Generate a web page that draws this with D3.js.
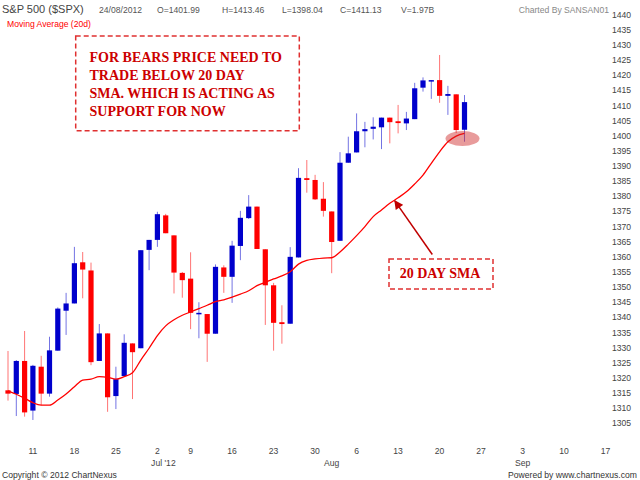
<!DOCTYPE html>
<html>
<head>
<meta charset="utf-8">
<script src="https://cdn.jsdelivr.net/npm/d3@7"></script>
<style>
  body { margin: 0; background: #fff; }
  svg { display: block; font-family: "Liberation Sans", Arial, sans-serif; }
</style>
</head>
<body>
<svg id="chart"></svg>
<script>
// trading days shown on the chart (index 0 = 7 Jun 2012)
const dates = ['Jun 7','Jun 8','Jun 11','Jun 12','Jun 13','Jun 14','Jun 15','Jun 18','Jun 19','Jun 20',
  'Jun 21','Jun 22','Jun 25','Jun 26','Jun 27','Jun 28','Jun 29','Jul 2','Jul 3','Jul 5',
  'Jul 6','Jul 9','Jul 10','Jul 11','Jul 12','Jul 13','Jul 16','Jul 17','Jul 18','Jul 19',
  'Jul 20','Jul 23','Jul 24','Jul 25','Jul 26','Jul 27','Jul 30','Jul 31','Aug 1','Aug 2',
  'Aug 3','Aug 6','Aug 7','Aug 8','Aug 9','Aug 10','Aug 13','Aug 14','Aug 15','Aug 16',
  'Aug 17','Aug 20','Aug 21','Aug 22','Aug 23','Aug 24'];

const opens = [1315.9,1314.7,1325.6,1309.2,1323.7,1314.8,1329.0,1342.2,1344.6,1358.2,
  1355.5,1325.6,1334.7,1314.0,1320.6,1331.4,1329.8,1362.3,1365.6,1373.7,
  1367.1,1354.7,1352.8,1341.1,1341.1,1334.6,1356.5,1353.4,1363.6,1372.8,
  1376.6,1362.5,1350.6,1338.4,1337.9,1359.8,1386.0,1385.4,1379.2,1375.0,
  1365.3,1391.1,1394.5,1401.5,1402.3,1402.8,1406.0,1404.8,1404.1,1405.5,
  1415.9,1418.1,1418.4,1413.2,1413.7,1401.99];
const highs = [1328.9,1325.9,1335.5,1324.3,1327.3,1333.6,1343.3,1348.1,1363.3,1361.6,
  1358.1,1337.8,1334.7,1323.7,1334.4,1331.4,1362.2,1365.6,1374.9,1374.2,
  1367.1,1355.0,1361.5,1345.0,1341.1,1357.5,1357.2,1365.3,1375.2,1380.4,
  1376.6,1362.5,1351.4,1344.0,1363.2,1389.3,1392.0,1387.1,1384.7,1375.0,
  1394.6,1399.7,1407.4,1404.6,1406.1,1406.0,1406.0,1410.2,1407.9,1417.5,
  1419.3,1418.4,1426.7,1416.5,1413.7,1413.46];
const lows = [1312.5,1307.4,1307.2,1306.1,1311.0,1313.8,1329.0,1334.2,1344.6,1346.3,
  1324.2,1325.6,1308.8,1309.7,1320.6,1313.0,1329.8,1355.6,1363.3,1367.8,
  1347.9,1346.5,1336.1,1333.1,1325.3,1334.6,1348.1,1344.8,1358.9,1372.5,
  1362.6,1337.5,1329.0,1331.3,1337.9,1359.8,1381.2,1378.8,1373.3,1354.6,
  1365.3,1391.1,1394.5,1396.2,1398.8,1395.6,1397.5,1400.8,1401.9,1405.5,
  1414.6,1412.2,1410.9,1406.9,1400.9,1398.04];
const closes = [1314.8,1325.6,1308.6,1324.0,1314.8,1329.1,1342.9,1344.6,1357.9,1355.8,
  1325.2,1334.7,1313.6,1319.6,1331.6,1328.5,1362.2,1365.6,1374.1,1367.8,
  1354.8,1352.3,1341.5,1341.5,1334.6,1356.7,1353.4,1363.7,1372.9,1376.6,
  1362.6,1350.6,1338.2,1337.8,1360.0,1386.1,1385.4,1379.0,1375.2,1364.9,
  1391.1,1394.2,1401.5,1402.2,1403.0,1406.0,1404.5,1404.2,1405.7,1415.7,
  1418.3,1418.4,1413.2,1413.8,1401.9,1411.13];

// 20 day moving average
const smaValues = [1315.7,1314.6,1313.3,1311.8,1311.0,1311.0,1312.7,1314.7,1317.1,1319.3,
  1319.6,1320.4,1320.2,1319.6,1320.4,1321.7,1325.9,1329.8,1334.0,1337.2,
  1339.2,1340.7,1341.8,1342.9,1344.0,1345.2,1345.8,1346.7,1347.7,1348.8,
  1350.5,1351.6,1352.7,1353.7,1355.1,1357.6,1358.8,1359.3,1359.6,1359.7,
  1361.6,1364.2,1367.0,1370.0,1373.3,1375.5,1377.7,1379.5,1381.5,1384.1,
  1387.0,1390.9,1394.7,1398.0,1399.9,1400.8];

// weekly axis labels (trading day index of each Monday)
const tickLabels = ['11','18','25','2','9','16','23','30','6','13','20','27','3','10','17'];
const tickIndex = [2,7,12,17,21,26,31,36,41,46,51,56,61,66,71];
const monthLabels = ["Jul '12", 'Aug', 'Sep'];
const monthIndex = [17,38,61];

const priceTicks = d3.range(1305, 1441, 5);

const headerItems = ['24/08/2012','O=1401.99','H=1413.46','L=1398.04','C=1411.13','V=1.97B'];

class CandleChart {
    constructor(_config){
        this.config = {
            parentElement: _config.parentElement,
            containerWidth: _config.containerWidth || 640,
            containerHeight: _config.containerHeight || 480
        }
        this.initVis();
    }

    initVis(){
        let vis = this;

        vis.svg = d3.select(vis.config.parentElement)
            .attr('width', vis.config.containerWidth)
            .attr('height', vis.config.containerHeight);

        // x = trading day index, y = price
        vis.xScale = d3.scaleLinear()
            .domain([0, 55])
            .range([8, 464.5]);

        vis.yScale = d3.scaleLinear()
            .domain([1305, 1430])
            .range([423.3, 45]);

        vis.data = dates.map((d, i) => ({
            date: d, i: i, open: opens[i], high: highs[i], low: lows[i], close: closes[i]
        }));

        vis.drawHeader();
        vis.drawAxes();
        vis.drawCandles();
        vis.drawSma();
        vis.drawNotes();
    }

    drawHeader(){
        let vis = this;

        vis.svg.append('text')
            .attr('x', 2).attr('y', 13)
            .attr('font-size', 11).attr('fill', '#444')
            .text('S&P 500 ($SPX)');

        const headerX = [99, 157, 222, 282, 340, 401];
        vis.svg.selectAll('.hdr')
            .data(headerItems)
            .join('text')
                .attr('class', 'hdr')
                .attr('x', (d, i) => headerX[i])
                .attr('y', 13)
                .attr('font-size', 8.6)
                .attr('fill', '#555')
                .text(d => d);

        vis.svg.append('text')
            .attr('x', 609).attr('y', 13)
            .attr('text-anchor', 'end')
            .attr('font-size', 8.6).attr('fill', '#888')
            .text('Charted By SANSAN01');

        vis.svg.append('text')
            .attr('x', 7).attr('y', 27)
            .attr('font-size', 8.6).attr('fill', '#ff0000')
            .text('Moving Average (20d)');
    }

    drawAxes(){
        let vis = this;

        // price labels on the right, no axis line
        vis.svg.append('g')
            .selectAll('text')
            .data(priceTicks)
            .join('text')
                .attr('x', 612)
                .attr('y', d => vis.yScale(d))
                .attr('dy', '0.35em')
                .attr('font-size', 8.6)
                .attr('fill', '#444')
                .text(d => d);

        // week labels sit one slot right of the candle
        vis.svg.append('g')
            .selectAll('text')
            .data(tickLabels)
            .join('text')
                .attr('x', (d, i) => vis.xScale(tickIndex[i] + 1))
                .attr('y', 454)
                .attr('text-anchor', 'middle')
                .attr('font-size', 8.6)
                .attr('fill', '#444')
                .text(d => d);

        vis.svg.append('g')
            .selectAll('text')
            .data(monthLabels)
            .join('text')
                .attr('x', (d, i) => vis.xScale(monthIndex[i] + 1) + (i === 0 ? 6 : 0))
                .attr('y', 466)
                .attr('text-anchor', 'middle')
                .attr('font-size', 8.6)
                .attr('fill', '#444')
                .text(d => d);

        vis.svg.append('text')
            .attr('x', 2).attr('y', 478)
            .attr('font-size', 8.6).attr('fill', '#333')
            .text('Copyright \u00a9 2012 ChartNexus');

        vis.svg.append('text')
            .attr('x', 637).attr('y', 478)
            .attr('text-anchor', 'end')
            .attr('font-size', 8.6).attr('fill', '#333')
            .text('Powered by www.chartnexus.com');
    }

    drawCandles(){
        let vis = this;
        const color = d => d.close >= d.open ? '#0000cc' : '#ff0000';

        vis.chart = vis.svg.append('g');

        vis.chart.selectAll('.wick')
            .data(vis.data)
            .join('line')
                .attr('class', 'wick')
                .attr('x1', d => vis.xScale(d.i))
                .attr('x2', d => vis.xScale(d.i))
                .attr('y1', d => vis.yScale(d.high))
                .attr('y2', d => vis.yScale(d.low))
                .attr('stroke', color)
                .attr('stroke-opacity', 0.55)
                .attr('stroke-width', 1);

        vis.chart.selectAll('.body')
            .data(vis.data)
            .join('rect')
                .attr('class', 'body')
                .attr('x', d => vis.xScale(d.i) - 2.6)
                .attr('width', 5.2)
                .attr('y', d => vis.yScale(Math.max(d.open, d.close)))
                .attr('height', d => Math.max(1.5, Math.abs(vis.yScale(d.open) - vis.yScale(d.close))))
                .attr('fill', color);
    }

    drawSma(){
        let vis = this;

        const line = d3.line()
            .x((d, i) => vis.xScale(i))
            .y(d => vis.yScale(d))
            .curve(d3.curveMonotoneX);

        vis.svg.append('path')
            .datum(smaValues)
            .attr('d', line)
            .attr('fill', 'none')
            .attr('stroke', '#ff0000')
            .attr('stroke-width', 1.3);
    }

    drawNotes(){
        let vis = this;
        const noteRed = '#cc0000';

        // highlight where price touches the average
        vis.svg.append('ellipse')
            .attr('cx', vis.xScale(55) - 2)
            .attr('cy', vis.yScale(1399.1))
            .attr('rx', 17)
            .attr('ry', 7.5)
            .attr('fill', '#cc2222')
            .attr('fill-opacity', 0.45);

        // callout box top left
        vis.svg.append('rect')
            .attr('x', 75.7).attr('y', 36)
            .attr('width', 223.6).attr('height', 94.7)
            .attr('fill', 'none')
            .attr('stroke', '#e03030')
            .attr('stroke-width', 1.5)
            .attr('stroke-dasharray', '5,3');

        const noteLines = ['FOR BEARS PRICE NEED TO', 'TRADE BELOW 20 DAY',
            'SMA. WHICH IS ACTING AS', 'SUPPORT FOR NOW'];
        vis.svg.selectAll('.note')
            .data(noteLines)
            .join('text')
                .attr('class', 'note')
                .attr('x', 89.5)
                .attr('y', (d, i) => 61.5 + i * 18.2)
                .attr('font-family', '"Liberation Serif", "Times New Roman", serif')
                .attr('font-weight', 'bold')
                .attr('font-size', 14)
                .attr('fill', noteRed)
                .text(d => d);

        // 20 day SMA label + arrow
        vis.svg.append('rect')
            .attr('x', 389).attr('y', 259)
            .attr('width', 104).attr('height', 30)
            .attr('fill', 'none')
            .attr('stroke', '#e03030')
            .attr('stroke-width', 1.5)
            .attr('stroke-dasharray', '5,3');

        vis.svg.append('text')
            .attr('x', 440).attr('y', 278)
            .attr('text-anchor', 'middle')
            .attr('font-family', '"Liberation Serif", "Times New Roman", serif')
            .attr('font-weight', 'bold')
            .attr('font-size', 14)
            .attr('fill', noteRed)
            .text('20 DAY SMA');

        vis.svg.append('defs').append('marker')
            .attr('id', 'arrowHead')
            .attr('viewBox', '0 0 10 10')
            .attr('refX', 9).attr('refY', 5)
            .attr('markerWidth', 11).attr('markerHeight', 9)
            .attr('markerUnits', 'userSpaceOnUse')
            .attr('orient', 'auto')
            .append('path')
                .attr('d', 'M0,0 L10,5 L0,10 Z')
                .attr('fill', '#c00000');

        vis.svg.append('line')
            .attr('x1', 432.3).attr('y1', 254.5)
            .attr('x2', vis.xScale(46.6)).attr('y2', vis.yScale(1378.5))
            .attr('stroke', '#c00000')
            .attr('stroke-width', 1.5)
            .attr('marker-end', 'url(#arrowHead)');
    }
}

let chart = new CandleChart({ parentElement: '#chart' });
</script>
</body>
</html>
